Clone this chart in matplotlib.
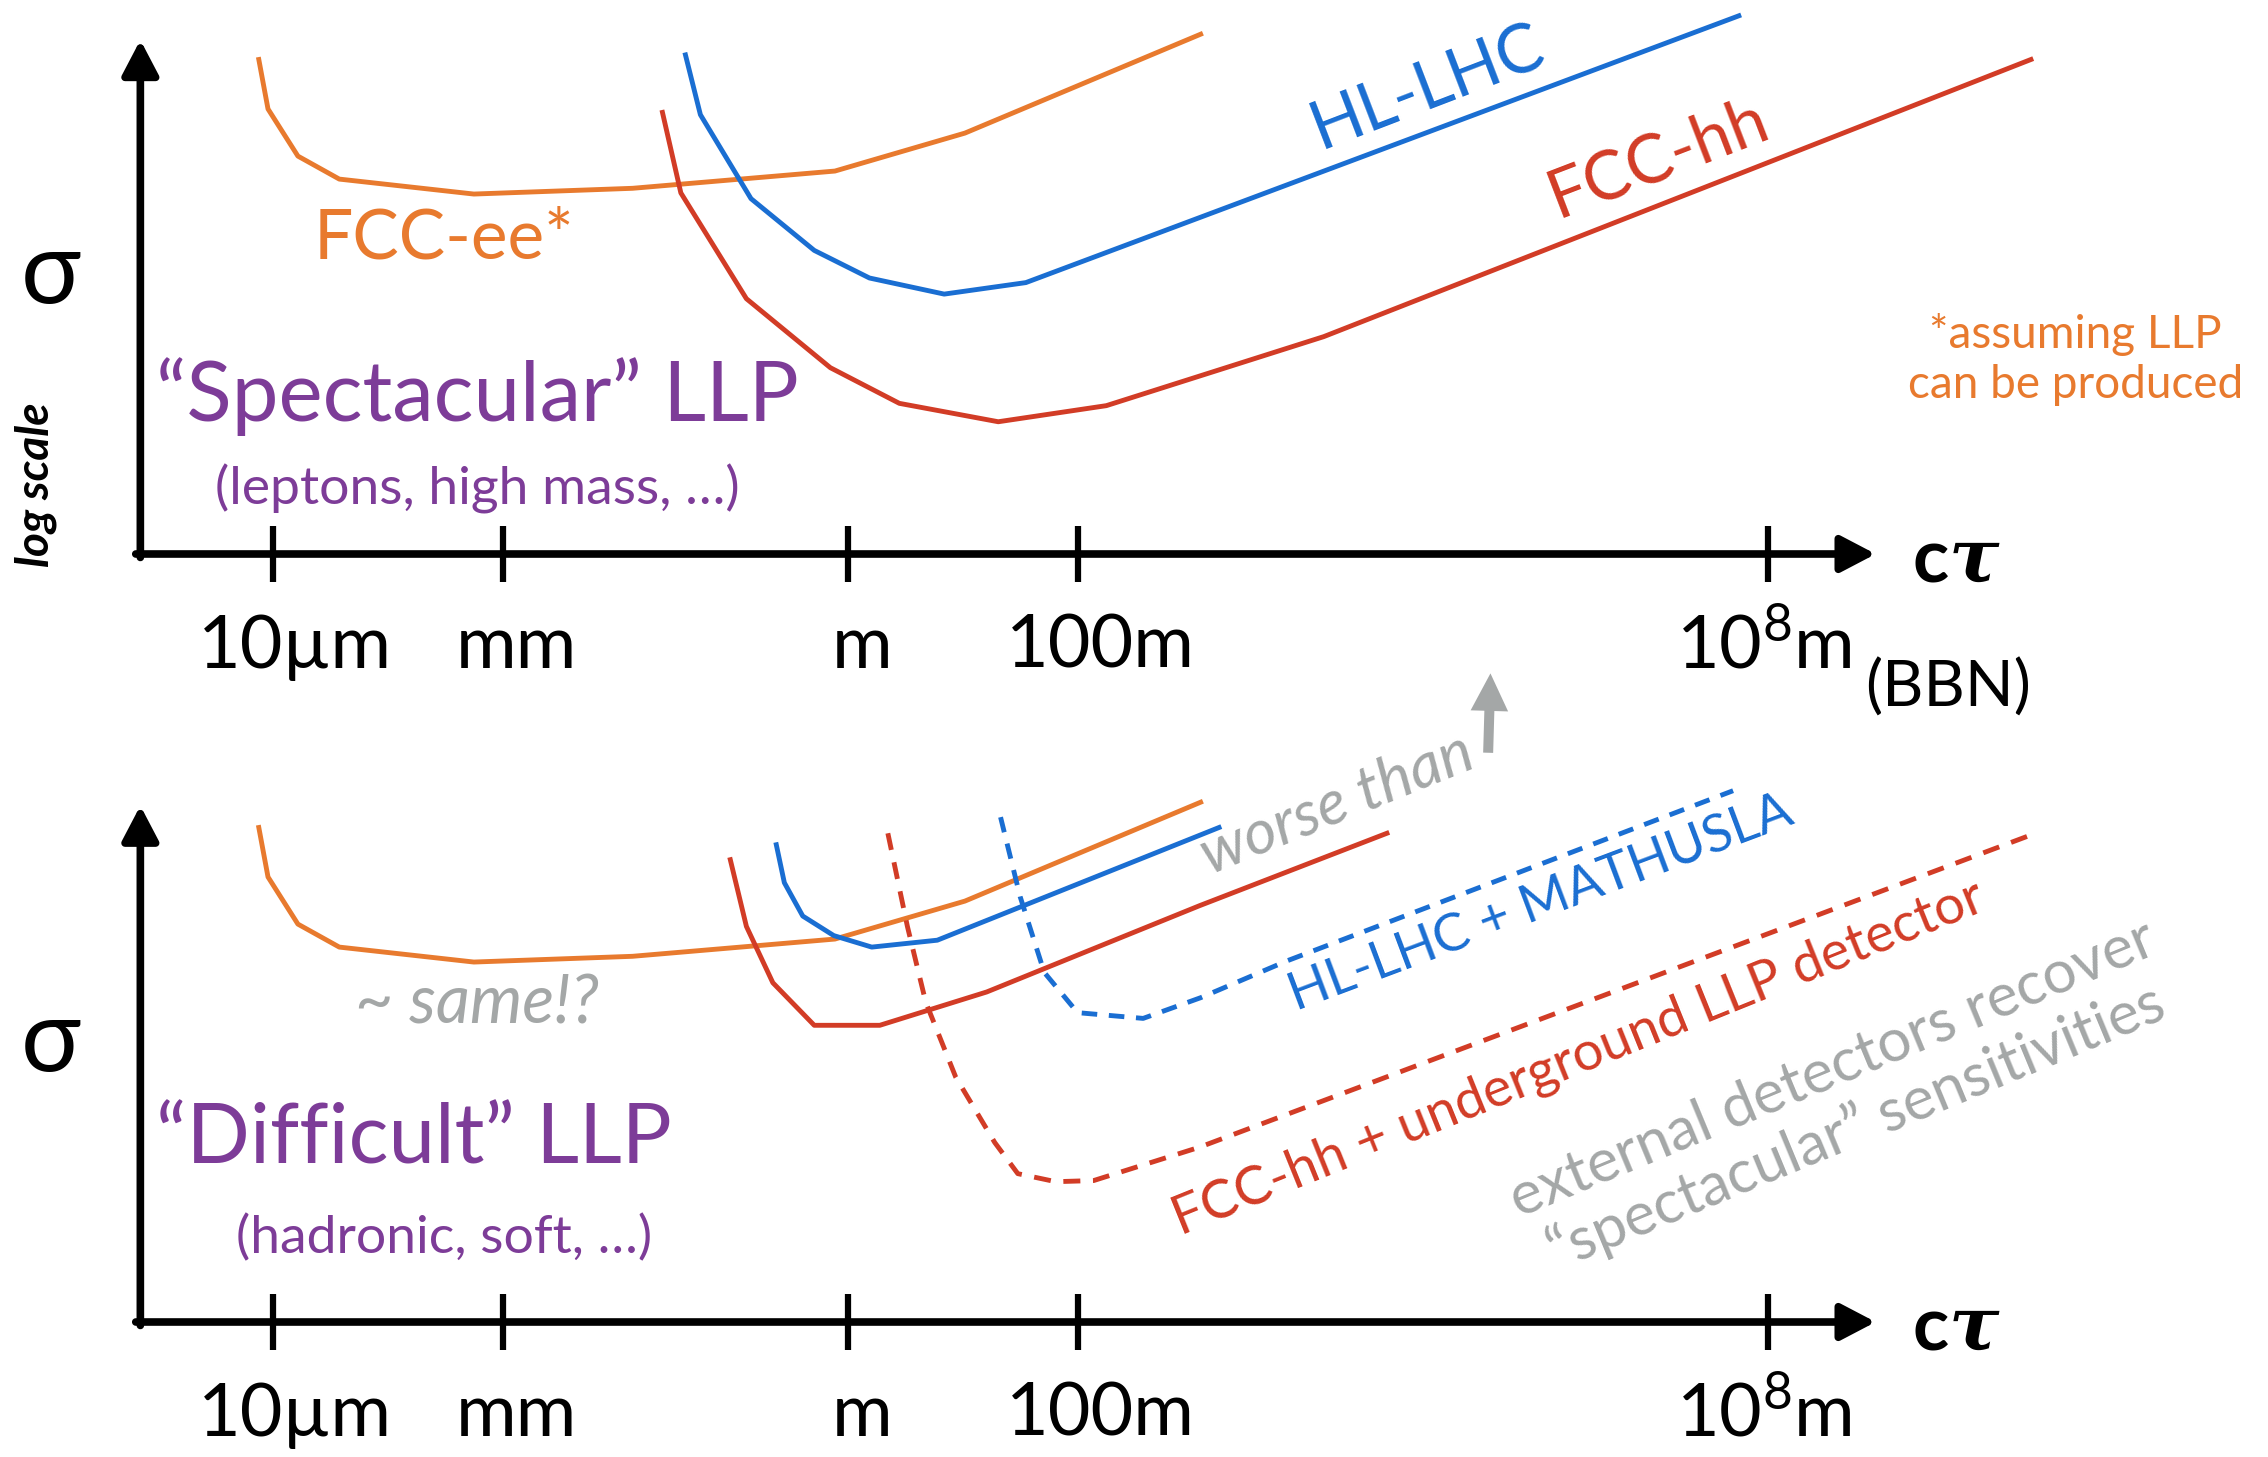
import matplotlib
matplotlib.use("Agg")
import matplotlib.pyplot as plt

plt.rcParams['font.family'] = ['Lato', 'DejaVu Sans']
plt.rcParams['mathtext.fontset'] = 'custom'
plt.rcParams['mathtext.rm'] = 'Lato'
plt.rcParams['mathtext.it'] = 'DejaVu Serif:italic:bold'
plt.rcParams['mathtext.bf'] = 'Lato:bold'

# x: log10(c*tau / m), y: log sigma (arbitrary units, 0 = axis line)
tick_vals = [-5, -3, 0, 2, 8]
tick_labels = ['10µm', 'mm', 'm', '100m', '10$^8$m']

# FCC-ee (same curve in both panels)
ee_x = [-5.12, -5.04, -4.78, -4.42, -3.25, -1.87, -0.11, 1.02, 3.07]
ee_y = [4.30, 3.87, 3.46, 3.26, 3.13, 3.18, 3.33, 3.66, 4.52]

# "spectacular" LLP
hllhc_x = [-1.41, -1.28, -0.84, -0.29, 0.19, 0.84, 1.55, 7.75]
hllhc_y = [4.34, 3.82, 3.09, 2.64, 2.40, 2.26, 2.36, 4.68]
fcchh_x = [-1.61, -1.45, -0.88, -0.15, 0.45, 1.31, 2.25, 4.14, 10.29]
fcchh_y = [3.84, 3.14, 2.22, 1.62, 1.31, 1.15, 1.29, 1.89, 4.30]

# "difficult" LLP
hllhc_d_x = [-0.62, -0.55, -0.39, -0.12, 0.21, 0.78, 1.48, 3.23]
hllhc_d_y = [4.15, 3.82, 3.53, 3.36, 3.26, 3.32, 3.60, 4.30]
fcchh_d_x = [-1.02, -0.88, -0.65, -0.29, 0.28, 1.21, 3.06, 4.69]
fcchh_d_y = [4.02, 3.44, 2.95, 2.58, 2.58, 2.87, 3.62, 4.25]
mathusla_x = [1.33, 1.50, 1.71, 2.00, 2.57, 3.07, 3.82, 7.70]
mathusla_y = [4.39, 3.70, 3.04, 2.69, 2.64, 2.82, 3.14, 4.62]
underground_x = [0.35, 0.52, 0.68, 0.94, 1.28, 1.48, 1.81, 2.14, 3.06, 10.33]
underground_y = [4.25, 3.44, 2.78, 2.13, 1.56, 1.29, 1.22, 1.23, 1.52, 4.25]

orange = '#E87A2E'
blue = '#1A6ED2'
red = '#D23C26'
purple = '#7D3C98'
gray = '#A4A7A7'

W, H = 2268, 1457
ppu = 115.0          # pixels per unit (both axes)
x0_px = 847.6        # pixel of log10(ctau)=0
split_px = 768       # border between the two panels
axis_px = [554, 1322]  # x-axis line of each panel

fig = plt.figure(figsize=(W / 100, H / 100), dpi=100)
top = fig.add_axes([0, 1 - split_px / H, 1, split_px / H])
bot = fig.add_axes([0, 0, 1, 1 - split_px / H])

xlim = (-x0_px / ppu, (W - x0_px) / ppu)
top.set_xlim(*xlim)
top.set_ylim(-(split_px - axis_px[0]) / ppu, axis_px[0] / ppu)
bot.set_xlim(*xlim)
bot.set_ylim(-(H - axis_px[1]) / ppu, (axis_px[1] - split_px) / ppu)

y_axis_x = -6.15
for ax, ytip in [(top, 4.47), (bot, 4.49)]:
    ax.axis('off')
    ax.annotate('', xy=(8.94, 0), xytext=(y_axis_x - 0.04, 0),
                arrowprops=dict(arrowstyle='-|>,head_length=0.42,head_width=0.22',
                                lw=5.5, color='black', shrinkA=0, shrinkB=0,
                                mutation_scale=50))
    ax.annotate('', xy=(y_axis_x, ytip), xytext=(y_axis_x, -0.03),
                arrowprops=dict(arrowstyle='-|>,head_length=0.42,head_width=0.22',
                                lw=5.5, color='black', shrinkA=0, shrinkB=0,
                                mutation_scale=50))
    ax.vlines(tick_vals, -0.24, 0.24, color='black', lw=4.5)
    shifts = [0.19, 0.12, 0.13, 0.2, -0.03]
    for v, lab, s in zip(tick_vals, tick_labels, shifts):
        ax.text(v + s, -0.99, lab, fontsize=53, ha='center', va='baseline')
    ax.text(9.26, -0.24, r'c$\tau$', fontsize=54, fontweight='bold',
            ha='left', va='baseline')
    ax.text(-6.93, 2.43, 'σ', fontsize=72, ha='center', va='center')
    ax.plot(ee_x, ee_y, color=orange, lw=3.5)

# top panel
top.plot(hllhc_x, hllhc_y, color=blue, lw=3.5)
top.plot(fcchh_x, fcchh_y, color=red, lw=3.5)
top.text(9.57, -1.165, '(BBN)', fontsize=46, ha='center', va='center')
top.text(-7.06, 0.6, 'log scale', fontsize=33, style='italic', fontweight='bold',
         rotation=90, ha='center', va='center')
top.text(-3.51, 2.74, 'FCC-ee*', fontsize=50, color=orange, ha='center', va='center')
top.text(5.05, 4.05, 'HL-LHC', fontsize=49, color=blue, rotation=21,
         ha='center', va='center')
top.text(7.05, 3.44, 'FCC-hh', fontsize=49, color=red, rotation=21,
         ha='center', va='center')
top.text(10.68, 1.69, '*assuming LLP\ncan be produced', fontsize=33, color=orange,
         ha='center', va='center', linespacing=1.25)
top.text(-3.22, 1.37, '“Spectacular” LLP', fontsize=60, color=purple,
         ha='center', va='center')
top.text(-3.22, 0.565, '(leptons, high mass, …)', fontsize=38.5, color=purple,
         ha='center', va='center')

# bottom panel
bot.plot(hllhc_d_x, hllhc_d_y, color=blue, lw=3.5)
bot.plot(fcchh_d_x, fcchh_d_y, color=red, lw=3.5)
bot.plot(mathusla_x, mathusla_y, color=blue, lw=3.5, ls=(0, (3.2, 2.4)))
bot.plot(underground_x, underground_y, color=red, lw=3.5, ls=(0, (3.5, 2.6)))
bot.text(-3.22, 2.76, '~ same!?', fontsize=48, color=gray, style='italic',
         ha='center', va='center')
bot.text(-3.77, 1.58, '“Difficult” LLP', fontsize=60, color=purple,
         ha='center', va='center')
bot.text(-3.51, 0.73, '(hadronic, soft, …)', fontsize=38.5, color=purple,
         ha='center', va='center')
bot.text(4.26, 4.50, 'worse than', fontsize=45, color=gray, style='italic',
         rotation=22, ha='center', va='center')
bot.annotate('', xy=(5.59, 5.64), xytext=(5.57, 4.95), annotation_clip=False,
             arrowprops=dict(arrowstyle='simple,head_length=0.9,head_width=0.9,tail_width=0.24',
                             color=gray, lw=0, shrinkA=0, shrinkB=0, mutation_scale=30))
bot.text(6.03, 3.64, 'HL-LHC + MATHUSLA', fontsize=38, color=blue, rotation=20.6,
         ha='center', va='center')
bot.text(6.35, 2.30, 'FCC-hh + underground LLP detector', fontsize=39, color=red,
         rotation=22, ha='center', va='center')
bot.text(8.67, 1.94, 'external detectors recover\n“spectacular” sensitivities',
         fontsize=43, color=gray, rotation=22.5, ha='center', va='center',
         multialignment='center', linespacing=1.15)

fig.savefig('out.png', dpi=100)
